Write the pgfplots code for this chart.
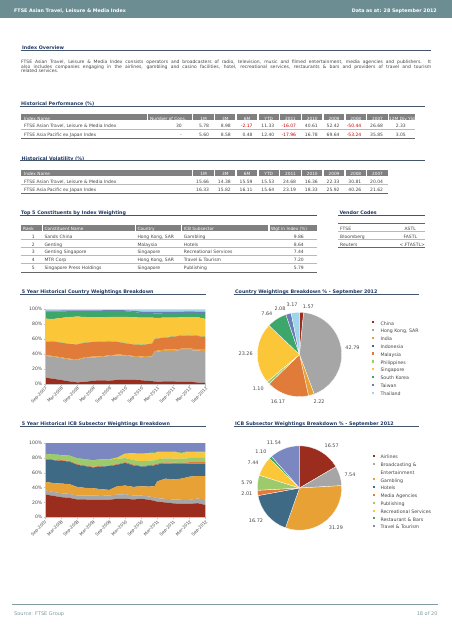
\documentclass[border=0pt]{standalone}
\usepackage{fontspec}
\setmainfont{DejaVu Sans}
\usepackage{pgfplots}
\usepackage{pgfplotstable}
\pgfplotsset{compat=1.18}

\definecolor{hdr}{RGB}{108,141,146}
\definecolor{navy}{RGB}{31,56,100}
\definecolor{rulec}{RGB}{68,84,106}
\definecolor{thdr}{RGB}{128,128,128}
\definecolor{txt}{RGB}{70,70,70}
\definecolor{negc}{RGB}{204,0,0}
\definecolor{footc}{RGB}{130,155,160}
\definecolor{cRed}{RGB}{155,45,31}
\definecolor{cGrey}{RGB}{166,166,166}
\definecolor{cGold}{RGB}{232,161,53}
\definecolor{cTeal}{RGB}{63,106,133}
\definecolor{cOrange}{RGB}{224,123,58}
\definecolor{cLGreen}{RGB}{157,203,107}
\definecolor{cYellow}{RGB}{251,198,55}
\definecolor{cGreen}{RGB}{61,166,107}
\definecolor{cBlue}{RGB}{107,125,184}
\definecolor{cPurple}{RGB}{122,135,192}
\definecolor{cLBlue}{RGB}{157,213,234}

\newcommand\fs[1]{\fontsize{#1}{#1}\selectfont}
\newcommand\negv[1]{\textcolor{negc}{#1}}
\newcommand\tl[3]{\node[anchor=mid west,inner sep=0pt,text=txt,font=\fs{4.5}] at (#1,-#2) {#3};}
\newcommand\tr[3]{\node[anchor=mid east,inner sep=0pt,text=txt,font=\fs{4.5}] at (#1,-#2) {#3};}
\newcommand\sect[4]{\node[anchor=mid west,inner sep=0pt,text=navy,font=\fs{4.8}\bfseries] at (#1,-#2) {#4};
  \draw[rulec,line width=0.7pt] (#1-1.5,-#2-3.4) -- (#3,-#2-3.4);}

\pgfplotstableread{
m CN HK IN MY PH SG KR TW TH
0 8.5 29.0 1.0 18.2 0.7 30.1 9.5 1.2 1.8
3 7.0 29.6 1.0 19.4 0.7 29.3 10.0 1.2 1.8
6 5.4 29.4 1.0 19.6 0.7 32.3 8.8 1.2 1.6
9 3.6 29.4 1.0 19.6 0.7 35.4 7.8 1.1 1.4
12 2.2 29.8 1.0 20.0 0.7 36.5 7.3 1.1 1.4
15 2.7 32.3 1.0 19.4 0.7 33.7 7.8 1.1 1.3
18 4.5 31.2 1.0 19.6 0.7 32.3 8.1 1.2 1.4
21 5.0 31.0 1.0 19.7 0.7 31.9 8.2 1.2 1.3
24 4.5 33.0 1.0 18.5 0.7 32.0 8.1 1.1 1.1
27 5.4 33.0 1.0 17.1 0.7 32.8 8.0 1.0 1.0
30 5.8 32.2 1.0 15.5 0.7 34.8 7.5 1.2 1.3
33 5.5 31.1 1.0 15.4 0.7 35.6 7.2 1.6 1.9
36 5.0 30.7 1.2 15.3 0.8 35.8 6.2 2.0 3.0
39 4.0 32.6 1.2 15.8 0.8 34.6 5.8 2.0 3.2
40 3.8 32.7 1.2 16.1 0.8 34.4 5.8 2.0 3.2
41 3.5 39.0 1.5 16.0 0.9 27.6 6.1 2.0 3.4
42 3.1 40.2 1.5 16.2 0.9 26.5 6.2 2.0 3.4
45 3.5 41.1 1.6 15.8 0.9 26.1 5.8 2.0 3.2
48 3.5 40.7 1.8 17.4 1.0 24.4 6.0 2.0 3.2
51 2.8 42.7 1.9 17.3 1.0 23.5 5.8 2.0 3.0
54 3.0 42.5 2.0 17.5 1.0 23.7 5.5 2.0 2.8
57 2.0 42.6 2.1 17.6 1.1 24.1 5.5 2.0 3.0
60 1.57 42.79 2.22 16.17 1.10 23.26 7.64 2.08 3.17
}\countrydata

\pgfplotstableread{
m AIR BRO GAM HOT MED PUB REC RES TRV
0 30.7 5.7 11.2 30.6 1.0 6.0 0 0.5 14.3
3 28.9 5.3 12.0 30.7 1.0 6.5 0 0.5 15.1
6 27.1 5.3 12.9 30.7 1.0 6.5 0 0.5 16.0
9 26.2 5.4 13.3 30.2 1.0 7.0 0 0.5 16.4
12 24.0 5.3 11.6 29.8 1.0 7.5 0 0.5 20.3
15 24.0 5.3 10.3 29.3 1.0 8.0 0 0.5 21.6
18 23.6 5.7 9.8 28.0 1.0 8.5 0 0.5 22.9
21 23.6 5.3 8.9 30.6 1.0 8.5 0 0.5 21.6
24 23.6 5.7 7.6 32.0 1.0 8.0 0 0.5 21.6
27 24.9 5.8 11.1 28.9 1.0 7.0 1.5 0.5 19.3
30 24.9 6.2 11.6 30.6 1.0 5.5 6.0 0.6 13.6
33 24.0 5.3 11.6 28.9 1.2 6.0 9.0 0.6 13.4
36 24.9 4.4 12.5 26.6 1.2 6.0 10.0 0.7 13.7
39 23.6 4.4 13.3 27.6 1.3 6.0 10.0 0.7 13.1
41 22.0 4.8 15.2 28.0 1.3 5.5 10.0 0.8 12.4
42 20.9 4.9 22.6 22.7 1.4 5.5 9.5 0.8 11.7
45 20.0 4.9 27.1 20.4 1.5 5.5 8.5 0.9 11.2
48 18.7 5.3 27.1 20.9 1.6 5.5 8.5 0.9 11.5
51 18.2 5.4 28.4 19.6 1.7 5.5 8.0 1.0 12.2
54 18.2 5.4 31.1 17.7 1.8 5.5 8.0 1.0 11.3
57 19.0 6.3 30.3 16.8 1.9 5.7 7.5 1.0 11.5
60 16.57 7.54 31.29 16.72 2.01 5.79 7.44 1.10 11.54
}\icbdata

\pgfplotsset{
  areaax/.style={scale only axis, width=160.5pt, xmin=0, xmax=60, ymin=0, ymax=100,
    stack plots=y, area style,
    axis x line*=bottom, axis y line*=left,
    axis line style={draw=gray!45, line width=0.4pt},
    xtick={0,6,...,60},
    xticklabels={Sep-2007,Mar-2008,Sep-2008,Mar-2009,Sep-2009,Mar-2010,Sep-2010,Mar-2011,Sep-2011,Mar-2012,Sep-2012},
    ytick={0,20,40,60,80,100},
    yticklabels={0\%,20\%,40\%,60\%,80\%,100\%},
    tick align=outside, major tick length=1.5pt,
    tick style={draw=gray!50, line width=0.3pt},
    yticklabel style={font=\fs{4.6}, text=txt, inner sep=1pt},
    xticklabel style={font=\fs{4.2}, text=txt, rotate=45, anchor=north east, inner sep=0.6pt},
  },
  pieax/.style={scale only axis, width=84.4pt, height=84.4pt, hide axis, clip=false,
    xmin=-1, xmax=1, ymin=-1, ymax=1, anchor=center},
}

\begin{document}
\begin{tikzpicture}
\fill[white] (0pt,0pt) rectangle (452pt,-640pt);
\path[use as bounding box] (0pt,0pt) rectangle (452pt,-640pt);
\begin{scope}[x=1pt,y=1pt]
% header band
\fill[hdr] (0,0) rectangle (452,-18.3);
\node[anchor=mid west,inner sep=0pt,text=white,font=\fs{4.8}\bfseries] at (14,-9.8) {FTSE Asian Travel, Leisure \& Media Index};
\node[anchor=mid east,inner sep=0pt,text=white,font=\fs{4.8}\bfseries] at (437,-9.8) {Data as at: 28 September 2012};

% index overview
\sect{22}{47}{431}{Index Overview}
\node[anchor=north west,inner sep=0pt,text width=410pt,align=justify,text=txt,font=\fs{4.5}] at (21,-60) {\fontsize{4.5}{5}\selectfont\hyphenpenalty=10000 FTSE Asian Travel, Leisure \& Media Index consists operators and broadcasters of radio, television, music and filmed entertainment, media agencies and publishers. It\linebreak also includes companies engaging in the airlines, gambling and casino facilities, hotel, recreational services, restaurants \& bars and providers of travel and tourism\linebreak related services.};

% historical performance
\sect{21}{102.7}{425}{Historical Performance (\%)}
\fill[thdr] (21,-114.3) rectangle (146.7,-120.3);
\fill[thdr] (147.7,-114.3) rectangle (192.3,-120.3);
\fill[thdr] (389,-114.3) rectangle (415,-120.3);
\node[anchor=mid west,inner sep=0pt,text=white,font=\fs{4.3}] at (24,-117.3) {Index Name};
\node[anchor=mid west,inner sep=0pt,text=white,font=\fs{4.3}] at (150,-117.3) {Number of Cons.};
\node[anchor=mid,inner sep=0pt,text=white,font=\fs{4.3}] at (402,-117.3) {12M Div Yld};
\foreach \x/\t in {193.3/1M,215.05/3M,236.8/6M,258.55/YTD,280.3/2011,302.05/2010,323.8/2009,345.55/2008,367.3/2007}{
  \fill[thdr] (\x,-114.3) rectangle (\x+20.4,-120.3);
  \node[anchor=mid,inner sep=0pt,text=white,font=\fs{4.3}] at (\x+10.2,-117.3) {\t};
}
\tl{24}{125}{FTSE Asian Travel, Leisure \& Media Index}
\tl{24}{133.3}{FTSE Asia Pacific ex Japan Index}
\tr{182}{125}{30}
\tr{182}{133.3}{-}
\foreach \x/\a/\b in {193.3/5.78/5.60,215.05/8.98/8.58,236.8/\negv{-2.17}/0.48,258.55/11.33/12.40,280.3/\negv{-16.07}/\negv{-17.96},302.05/40.61/16.78,323.8/52.42/69.64,345.55/\negv{-50.44}/\negv{-53.24},367.3/26.68/35.85}{
  \tr{\x+16}{125}{\a}
  \tr{\x+16}{133.3}{\b}
}
\tr{406}{125}{2.33}
\tr{406}{133.3}{3.05}
\draw[gray!55,line width=0.5pt] (21,-129.1) -- (415,-129.1);
\draw[gray!80!black,line width=1.5pt] (21,-138.5) -- (415,-138.5);

% historical volatility
\sect{21.5}{157.3}{425}{Historical Volatility (\%)}
\fill[thdr] (21,-169.5) rectangle (192.3,-175.5);
\node[anchor=mid west,inner sep=0pt,text=white,font=\fs{4.3}] at (24,-172.5) {Index Name};
\foreach \x/\t/\a/\b in {193.3/1M/15.66/16.33,215.05/3M/14.38/15.82,236.8/6M/15.59/16.11,258.55/YTD/15.53/15.64,280.3/2011/24.68/23.19,302.05/2010/16.36/18.33,323.8/2009/22.33/25.92,345.55/2008/30.81/40.26,367.3/2007/20.04/21.62}{
  \fill[thdr] (\x,-169.5) rectangle (\x+20.4,-175.5);
  \node[anchor=mid,inner sep=0pt,text=white,font=\fs{4.3}] at (\x+10.2,-172.5) {\t};
  \tr{\x+16}{180.7}{\a}
  \tr{\x+16}{188.7}{\b}
}
\tl{24}{180.7}{FTSE Asian Travel, Leisure \& Media Index}
\tl{24}{188.7}{FTSE Asia Pacific ex Japan Index}
\draw[gray!55,line width=0.5pt] (21,-184.7) -- (387.7,-184.7);
\draw[gray!80!black,line width=1.5pt] (21,-193.3) -- (387.7,-193.3);

% top 5 constituents
\sect{21}{211.7}{316.7}{Top 5 Constituents by Index Weighting}
\fill[thdr] (21,-224.6) rectangle (41.7,-231.4);
\fill[thdr] (42.7,-224.6) rectangle (135,-231.4);
\fill[thdr] (136,-224.6) rectangle (181,-231.4);
\fill[thdr] (182.3,-224.6) rectangle (268.3,-231.4);
\fill[thdr] (269.7,-224.6) rectangle (316.7,-231.4);
\node[anchor=mid west,inner sep=0pt,text=white,font=\fs{4.3}] at (23,-228) {Rank};
\node[anchor=mid west,inner sep=0pt,text=white,font=\fs{4.3}] at (44.3,-228) {Constituent Name};
\node[anchor=mid west,inner sep=0pt,text=white,font=\fs{4.3}] at (137.3,-228) {Country};
\node[anchor=mid west,inner sep=0pt,text=white,font=\fs{4.3}] at (183.7,-228) {ICB Subsector};
\node[anchor=mid west,inner sep=0pt,text=white,font=\fs{4.3}] at (271,-228) {Wgt in Index (\%)};
\foreach \r/\y/\n/\c/\s/\w in {1/235.7/Sands China/{Hong Kong, SAR}/Gambling/9.86,
  2/243.4/Genting/Malaysia/Hotels/8.64,
  3/251.1/Genting Singapore/Singapore/Recreational Services/7.44,
  4/259/MTR Corp/{Hong Kong, SAR}/Travel \& Tourism/7.20,
  5/266.8/Singapore Press Holdings/Singapore/Publishing/5.79}{
  \node[anchor=mid,inner sep=0pt,text=txt,font=\fs{4.5}] at (33.3,-\y) {\r};
  \tl{44.3}{\y}{\n}
  \tl{137.3}{\y}{\c}
  \tl{183.7}{\y}{\s}
  \tr{304}{\y}{\w}
}
\foreach \y in {239.5,247.3,255.1,262.9}{\draw[gray!55,line width=0.5pt] (21,-\y) -- (316.7,-\y);}
\draw[gray!80!black,line width=1.5pt] (21,-272.3) -- (316.7,-272.3);

% vendor codes
\sect{339.3}{211.7}{425}{Vendor Codes}
\draw[gray!80!black,line width=0.6pt] (338,-223.3) -- (425,-223.3);
\tl{340}{227.7}{FTSE}
\tl{340}{235.7}{Bloomberg}
\tl{340}{243.3}{Reuters}
\tr{416}{227.7}{ASTL}
\tr{417.3}{235.7}{FASTL}
\tr{425}{243.3}{\textless.FTASTL\textgreater}
\draw[gray!55,line width=0.5pt] (338,-231.7) -- (425,-231.7);
\draw[gray!55,line width=0.5pt] (338,-239.5) -- (425,-239.5);
\draw[gray!80!black,line width=1.5pt] (338,-247.7) -- (425,-247.7);

% chart section titles
\sect{21.7}{290.7}{206}{5 Year Historical Country Weightings Breakdown}
\sect{235}{290.7}{419}{Country Weightings Breakdown \% - September 2012}
\sect{21.7}{423}{206}{5 Year Historical ICB Subsector Weightings Breakdown}
\sect{235}{423}{419}{ICB Subsector Weightings Breakdown \% - September 2012}

% legends
\foreach \c/\t [count=\i from 0] in {cRed/China,cGrey/{Hong Kong, SAR},cGold/India,cTeal/Indonesia,cOrange/Malaysia,cLGreen/Philippines,cYellow/Singapore,cGreen/South Korea,cBlue/Taiwan,cLBlue/Thailand}{
  \fill[\c] (372.2,{-321.2-7.82*\i}) rectangle ++(2.2,-2.2);
  \node[anchor=mid west,inner sep=0pt,text=txt,font=\fs{4.7}] at (380.3,{-322.3-7.82*\i}) {\t};
}
\foreach \c/\y/\t in {cRed/456/Airlines,cGrey/463.7/Broadcasting \&,cGold/479.3/Gambling,cTeal/487/Hotels,cOrange/495/Media Agencies,cLGreen/502.7/Publishing,cYellow/510.7/Recreational Services,cGreen/518.3/Restaurant \& Bars,cPurple/526/Travel \& Tourism}{
  \fill[\c] (372.9,-\y+1.1) rectangle ++(2.2,-2.2);
  \node[anchor=mid west,inner sep=0pt,text=txt,font=\fs{4.7}] at (380.3,-\y) {\t};
}
\node[anchor=mid west,inner sep=0pt,text=txt,font=\fs{4.7}] at (380.3,-471.4) {Entertainment};

% footer
\draw[footc,line width=0.6pt] (12.3,-604) -- (438,-604);
\node[anchor=mid west,inner sep=0pt,text=footc,font=\fs{5}] at (14,-612.3) {Source: FTSE Group};
\node[anchor=mid east,inner sep=0pt,text=footc,font=\fs{5}] at (437.7,-612.5) {18 of 20};
\end{scope}

% country area chart
\begin{axis}[areaax, height=74.7pt, at={(45pt,-384pt)}, anchor=south west]
\addplot[fill=cRed,draw=none] table[x=m,y=CN]{\countrydata} \closedcycle;
\addplot[fill=cGrey,draw=none] table[x=m,y=HK]{\countrydata} \closedcycle;
\addplot[fill=cGold,draw=none] table[x=m,y=IN]{\countrydata} \closedcycle;
\addplot[fill=cOrange,draw=none] table[x=m,y=MY]{\countrydata} \closedcycle;
\addplot[fill=cLGreen,draw=none] table[x=m,y=PH]{\countrydata} \closedcycle;
\addplot[fill=cYellow,draw=none] table[x=m,y=SG]{\countrydata} \closedcycle;
\addplot[fill=cGreen,draw=none] table[x=m,y=KR]{\countrydata} \closedcycle;
\addplot[fill=cBlue,draw=none] table[x=m,y=TW]{\countrydata} \closedcycle;
\addplot[fill=cLBlue,draw=none] table[x=m,y=TH]{\countrydata} \closedcycle;
\end{axis}

% ICB area chart
\begin{axis}[areaax, height=74.3pt, at={(45pt,-517.3pt)}, anchor=south west]
\addplot[fill=cRed,draw=none] table[x=m,y=AIR]{\icbdata} \closedcycle;
\addplot[fill=cGrey,draw=none] table[x=m,y=BRO]{\icbdata} \closedcycle;
\addplot[fill=cGold,draw=none] table[x=m,y=GAM]{\icbdata} \closedcycle;
\addplot[fill=cTeal,draw=none] table[x=m,y=HOT]{\icbdata} \closedcycle;
\addplot[fill=cOrange,draw=none] table[x=m,y=MED]{\icbdata} \closedcycle;
\addplot[fill=cLGreen,draw=none] table[x=m,y=PUB]{\icbdata} \closedcycle;
\addplot[fill=cYellow,draw=none] table[x=m,y=REC]{\icbdata} \closedcycle;
\addplot[fill=cGreen,draw=none] table[x=m,y=RES]{\icbdata} \closedcycle;
\addplot[fill=cPurple,draw=none] table[x=m,y=TRV]{\icbdata} \closedcycle;
\end{axis}

% country pie
\begin{axis}[pieax, at={(299.5pt,-354.5pt)}]
\pgfplotsextra{
  \xdef\cum{0}
  \foreach \v/\c/\la/\ld in {1.57/cRed/79.6/49, 42.79/cGrey/7/53.4, 2.22/cGold/-67.4/51, 16.17/cOrange/-114.6/51.7, 1.10/cLGreen/-140.5/53.5, 23.26/cYellow/179/53.8, 7.64/cGreen/128.5/52.4, 2.08/cBlue/112.9/50.2, 3.17/cLBlue/98.5/50}{
    \pgfmathsetmacro\a{90-3.6*\cum}
    \pgfmathsetmacro\b{90-3.6*(\cum+\v)}
    \fill[\c,draw=white,line width=0.3pt] (axis cs:0,0) -- ++(\a:42.2pt) arc[start angle=\a,end angle=\b,radius=42.2pt] -- cycle;
    \node[inner sep=0pt,text=txt,font=\fs{4.9}] at ([shift={(\la:\ld pt)}]axis cs:0,0) {\v};
    \pgfmathsetmacro\n{\cum+\v}
    \xdef\cum{\n}
  }
}
\end{axis}

% ICB pie
\begin{axis}[pieax, at={(299.5pt,-488pt)}]
\pgfplotsextra{
  \xdef\cum{0}
  \foreach \v/\c/\la/\ld in {16.57/cRed/53/53.5, 7.54/cGrey/15/52.3, 31.29/cGold/-47.6/54, 16.72/cTeal/-142.8/54.6, 2.01/cOrange/-173.5/53, 5.79/cLGreen/173.8/53, 7.44/cYellow/151/53, 1.10/cGreen/136.7/53, 11.54/cPurple/119.4/52}{
    \pgfmathsetmacro\a{90-3.6*\cum}
    \pgfmathsetmacro\b{90-3.6*(\cum+\v)}
    \fill[\c,draw=white,line width=0.3pt] (axis cs:0,0) -- ++(\a:42.2pt) arc[start angle=\a,end angle=\b,radius=42.2pt] -- cycle;
    \node[inner sep=0pt,text=txt,font=\fs{4.9}] at ([shift={(\la:\ld pt)}]axis cs:0,0) {\v};
    \pgfmathsetmacro\n{\cum+\v}
    \xdef\cum{\n}
  }
}
\end{axis}
\end{tikzpicture}
\end{document}
